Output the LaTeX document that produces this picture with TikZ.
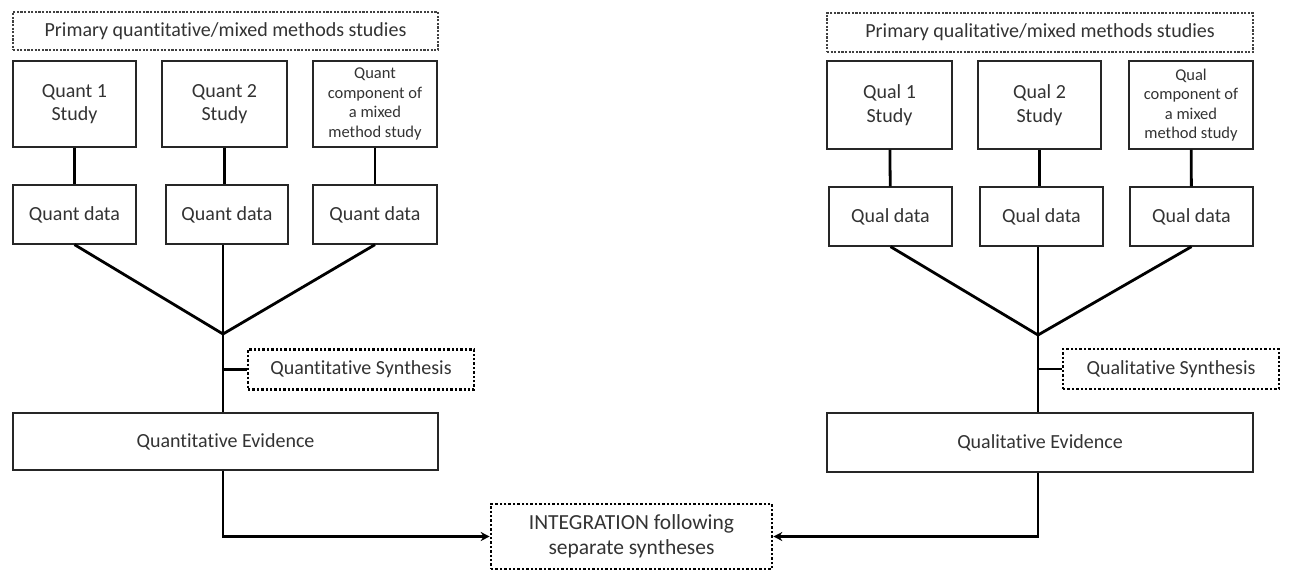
\documentclass[tikz,border=0pt]{standalone}
\usepackage{fontspec}
\setmainfont{Carlito}[Ligatures=NoCommon]
\usetikzlibrary{arrows.meta}
\begin{document}
\begin{tikzpicture}[x=1pt,y=-1pt,
  box/.style={draw=black!85,line width=1.3pt,rectangle,inner sep=0pt,align=center,font=\fontsize{20}{23.5}\selectfont,text=black!80},
  small/.style={font=\fontsize{16.5}{19.5}\selectfont},
  dashbox/.style={box,draw=black!75,dash pattern=on 2.2pt off 1.4pt,line width=1.2pt},
  dotbox/.style={box,draw=black,dash pattern=on 2.4pt off 2pt,line width=2.6pt},
  conn/.style={draw=black,line width=2.8pt},
  arr/.style={conn,-{Stealth[length=9pt,width=9pt]}}]
\useasboundingbox[fill=white] (0,0) rectangle (1289,572);
% left side
\node[dashbox,minimum width=425pt,minimum height=38pt] (ptop) at (225.5,31) {Primary quantitative/mixed methods studies};
\node[box,minimum width=123pt,minimum height=86pt] (s1) at (74.5,104) {Quant 1\\Study};
\node[box,minimum width=125pt,minimum height=86pt] (s2) at (224.5,104) {Quant 2\\Study};
\node[box,small,minimum width=124pt,minimum height=86pt] (s3) at (375,104) {Quant\\component of\\a mixed\\method study};
\node[box,minimum width=123pt,minimum height=59pt] (d1) at (74.5,214.5) {Quant data};
\node[box,minimum width=122pt,minimum height=59pt] (d2) at (227,214.5) {Quant data};
\node[box,minimum width=124pt,minimum height=59pt] (d3) at (375,214.5) {Quant data};
\coordinate (jL) at (223,334);
\node[dotbox,minimum width=226pt,minimum height=40pt] (qs) at (361,369.5) {Quantitative Synthesis};
\node[box,minimum width=425pt,minimum height=57pt] (qe) at (225.5,441.5) {Quantitative Evidence};
% right side
\node[dashbox,minimum width=426pt,minimum height=39pt] (rtop) at (1040,32.5) {Primary qualitative/mixed methods studies};
\node[box,minimum width=125pt,minimum height=88pt] (r1) at (889.5,105) {Qual 1\\Study};
\node[box,minimum width=123pt,minimum height=88pt] (r2) at (1039.5,105) {Qual 2\\Study};
\node[box,small,minimum width=124pt,minimum height=88pt] (r3) at (1191,105) {Qual\\component of\\a mixed\\method study};
\node[box,minimum width=123pt,minimum height=59pt] (rd1) at (890.5,216.5) {Qual data};
\node[box,minimum width=123pt,minimum height=59pt] (rd2) at (1041.5,216.5) {Qual data};
\node[box,minimum width=123pt,minimum height=59pt] (rd3) at (1191.5,216.5) {Qual data};
\coordinate (jR) at (1038,335);
\node[dotbox,minimum width=216pt,minimum height=40pt] (ls) at (1171,369) {Qualitative Synthesis};
\node[box,minimum width=426pt,minimum height=59pt] (le) at (1040,442.5) {Qualitative Evidence};
% integration
\node[dotbox,minimum width=281pt,minimum height=65pt,font=\fontsize{21.5}{25}\selectfont] (integ) at (631.5,536.5) {INTEGRATION following\\separate syntheses};
% left connectors
\draw[conn] (s1) -- (d1);
\draw[conn] (s2.south) -- (s2.south |- d2.north);
\draw[conn] (s3) -- (d3);
\draw[conn] (d1.south) -- (jL);
\draw[conn] (d2.south -| jL) -- (jL);
\draw[conn] (d3.south) -- (jL);
\draw[conn] (jL) -- (jL |- qe.north);
\draw[conn] (jL |- qs.west) -- (qs.west);
\draw[arr] (jL |- qe.south) -- (jL |- integ.west) -- (integ.west);
% right connectors
\draw[conn] (r1) -- (rd1);
\draw[conn] (r2) -- (r2 |- rd2.north);
\draw[conn] (r3) -- (rd3);
\draw[conn] (rd1.south) -- (jR);
\draw[conn] (rd2.south -| jR) -- (jR);
\draw[conn] (rd3.south) -- (jR);
\draw[conn] (jR) -- (jR |- le.north);
\draw[conn] (jR |- ls.west) -- (ls.west);
\draw[arr] (jR |- le.south) -- (jR |- integ.east) -- (integ.east);
\end{tikzpicture}
\end{document}
